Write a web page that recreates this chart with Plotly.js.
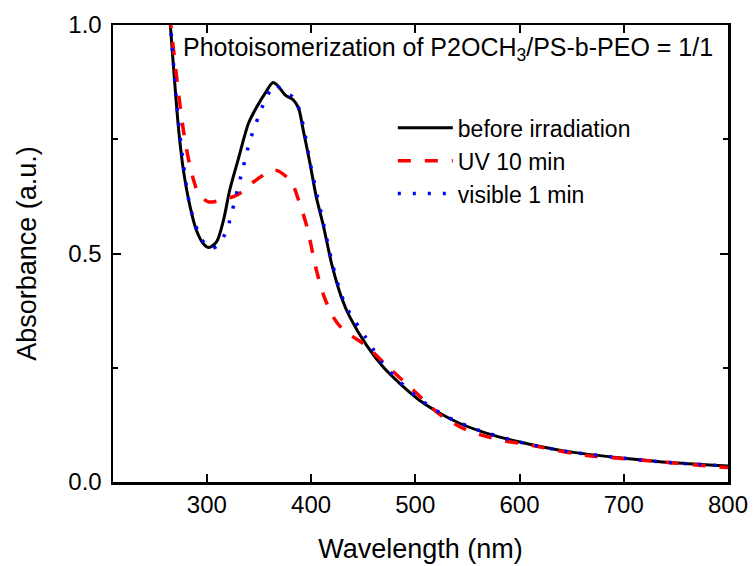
<!DOCTYPE html>
<html>
<head>
<meta charset="utf-8">
<script src="https://cdn.plot.ly/plotly-3.0.1.min.js"></script>
<style>html,body{margin:0;padding:0;background:#fff;}#chart{width:754px;height:566px;}</style>
</head>
<body>
<div id="chart"></div>
<script>
// Wavelength (nm) and absorbance
const wlBefore = [262, 265, 269.5, 273, 277.5, 284, 290, 296.5, 302, 309.5, 316, 322, 330, 340, 348, 356, 363.5, 368.5, 375, 383, 388, 392.5, 399, 405, 412, 420, 429, 437, 453, 469, 485, 504, 524, 543, 568, 597, 645, 700, 748, 800];
const absBefore = [1.08, 1.0, 0.865, 0.77, 0.683, 0.602, 0.551, 0.522, 0.513, 0.526, 0.573, 0.639, 0.705, 0.785, 0.821, 0.851, 0.874, 0.866, 0.847, 0.836, 0.818, 0.770, 0.697, 0.624, 0.559, 0.475, 0.405, 0.362, 0.300, 0.252, 0.216, 0.179, 0.150, 0.128, 0.107, 0.089, 0.067, 0.052, 0.042, 0.035];

const wlUV = [262, 265.5, 271, 277.5, 284, 292, 301.5, 314, 329, 345, 356, 364, 369, 381, 388, 396, 405, 412, 421, 430, 440, 453, 472, 498, 524, 549, 581, 610, 658, 716, 792, 800];
const absUV = [1.08, 1.0, 0.887, 0.77, 0.69, 0.632, 0.613, 0.617, 0.628, 0.657, 0.674, 0.682, 0.68, 0.657, 0.617, 0.559, 0.465, 0.409, 0.362, 0.335, 0.318, 0.298, 0.256, 0.201, 0.147, 0.114, 0.092, 0.081, 0.060, 0.048, 0.033, 0.032];

const wlVis = [262, 265.5, 271, 277.5, 284, 293.5, 299, 304.5, 311, 319, 327, 335, 341.5, 349.5, 357.5, 365.5, 373.5, 383, 388, 393, 399, 405.5, 412, 420, 429, 437, 452, 468, 485, 504, 524, 543, 568, 597, 645, 700, 748, 800];
const absVis = [1.08, 0.99, 0.829, 0.697, 0.602, 0.537, 0.52, 0.511, 0.519, 0.551, 0.617, 0.690, 0.748, 0.799, 0.843, 0.869, 0.854, 0.842, 0.82, 0.775, 0.70, 0.63, 0.565, 0.482, 0.41, 0.37, 0.318, 0.262, 0.22, 0.182, 0.151, 0.129, 0.108, 0.089, 0.067, 0.052, 0.042, 0.035];

const seriesNames = ["before irradiation", "UV 10 min", "visible 1 min"];
const xTicks = [300, 400, 500, 600, 700, 800];
const yTicks = [0.0, 0.5, 1.0];
const yTickText = ["0.0", "0.5", "1.0"];

const FONT = "Liberation Sans, Arial, sans-serif";

const traces = [
  {x: wlBefore, y: absBefore, name: seriesNames[0], mode: "lines",
   line: {color: "#000000", width: 3, shape: "spline", smoothing: 0.8}},
  {x: wlUV, y: absUV, name: seriesNames[1], mode: "lines",
   line: {color: "#ff0000", width: 3.5, dash: "13px,14px", shape: "spline", smoothing: 0.8}},
  {x: wlVis, y: absVis, name: seriesNames[2], mode: "lines",
   line: {color: "#0000ff", width: 3.5, dash: "3px,12px", shape: "spline", smoothing: 0.8}}
];

const axisCommon = {
  showline: true, linecolor: "#000", linewidth: 2.5, mirror: "ticks",
  ticks: "inside", ticklen: 8, tickwidth: 2, tickcolor: "#000",
  showgrid: false, zeroline: false,
  tickfont: {family: FONT, size: 24, color: "#000"}
};

const layout = {
  width: 754, height: 566,
  margin: {l: 113, r: 26, t: 25, b: 84},
  paper_bgcolor: "#fff", plot_bgcolor: "#fff",
  font: {family: FONT, color: "#000"},
  showlegend: true,
  legend: {x: 0.455, y: 0.822, xanchor: "left", yanchor: "top",
           font: {family: FONT, size: 23, color: "#000"},
           bgcolor: "rgba(0,0,0,0)", borderwidth: 0, itemwidth: 55, tracegroupgap: 0},
  xaxis: Object.assign({}, axisCommon, {
    range: [210, 800], tickvals: xTicks, ticktext: xTicks.map(String),
    ticklabelstandoff: 0,
    title: {text: "Wavelength (nm)", font: {family: FONT, size: 27, color: "#000"}, standoff: 22}
  }),
  yaxis: Object.assign({}, axisCommon, {
    range: [0, 1.0], tickvals: yTicks, ticktext: yTickText,
    ticklabelstandoff: 4,
    minor: {tickvals: [0.25, 0.75], ticks: "inside", ticklen: 5, tickwidth: 2, tickcolor: "#000"},
    title: {text: "Absorbance (a.u.)", font: {family: FONT, size: 27, color: "#000"}, standoff: 24}
  }),
  annotations: [{
    xref: "paper", yref: "paper", x: 0.1106, y: 0.9475, xanchor: "left", yanchor: "middle",
    text: "Photoisomerization of P2OCH<sub>3</sub>/PS-b-PEO = 1/1",
    showarrow: false, font: {family: FONT, size: 25, color: "#000"}
  }]
};

Plotly.newPlot("chart", traces, layout, {staticPlot: true, displayModeBar: false});
</script>
</body>
</html>
